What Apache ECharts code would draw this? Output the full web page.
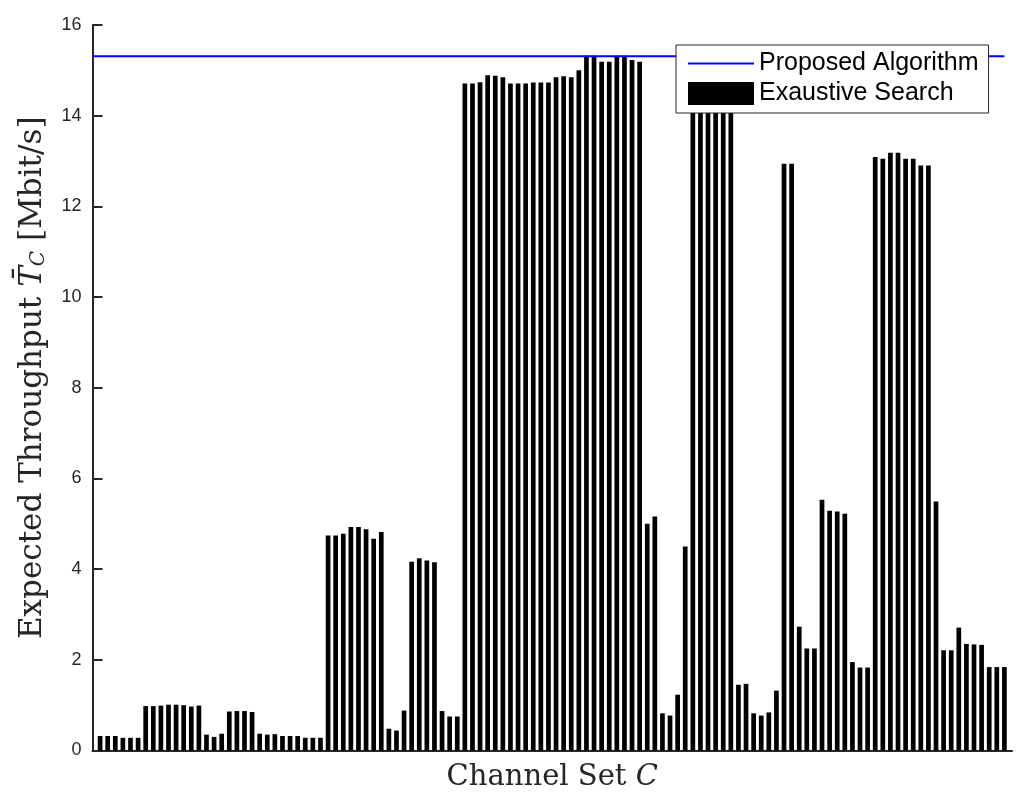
<!DOCTYPE html>
<html>
<head>
<meta charset="utf-8">
<style>
  html, body { margin: 0; padding: 0; background: #fff; }
  #chart { width: 1024px; height: 805px; }
</style>
<script src="https://cdn.jsdelivr.net/npm/echarts@6/dist/echarts.min.js"></script>
</head>
<body>
<div id="chart"></div>
<script>
// expected throughput per channel set, exhaustive search (Mbit/s)
const exhaustive = [
  0.32, 0.32, 0.32, 0.28, 0.28, 0.28,
  0.98, 0.98, 0.99, 1.01, 1.01, 1.00, 0.97, 0.99,
  0.35, 0.30, 0.37,
  0.86, 0.87, 0.87, 0.85,
  0.37, 0.35, 0.36,
  0.32, 0.32, 0.32,
  0.28, 0.28, 0.28,
  4.74, 4.74, 4.78, 4.93, 4.93, 4.88, 4.67, 4.82,
  0.48, 0.44, 0.88,
  4.16, 4.24, 4.19, 4.15,
  0.87, 0.75, 0.75,
  14.71, 14.71, 14.74, 14.89, 14.88, 14.85, 14.71, 14.71, 14.71, 14.73, 14.73, 14.73,
  14.85, 14.87, 14.85, 15.00, 15.32, 15.32, 15.19, 15.19, 15.32, 15.32, 15.23, 15.19,
  5.00, 5.16,
  0.82, 0.77, 1.23, 4.50,
  15.05, 15.05, 15.20, 15.20, 15.05, 15.05,
  1.45, 1.47, 0.82, 0.77, 0.84, 1.32,
  12.94, 12.94,
  2.73, 2.25, 2.25,
  5.53, 5.29, 5.27, 5.22,
  1.95, 1.83, 1.83,
  13.09, 13.05, 13.18, 13.18, 13.05, 13.05, 12.90, 12.90,
  5.49,
  2.21, 2.21,
  2.71,
  2.35, 2.34, 2.33,
  1.84, 1.84, 1.84,
];

// throughput reached by the proposed algorithm
const proposed = 15.31;

const seriesNames = ["Proposed Algorithm", "Exaustive Search"];
const yTicks = { min: 0, max: 16, step: 2 };

const AXIS_COLOR = "#262626";
const SANS = "'Liberation Sans', Arial, sans-serif";
const SERIF = "'DejaVu Serif', serif";

const chart = echarts.init(document.getElementById("chart"));

const barData = exhaustive.map((v, i) => [i + 1, v]);
const lineData = [[0, proposed], [exhaustive.length, proposed]];

chart.setOption({
  backgroundColor: "#fff",
  animation: false,
  grid: { left: 92.5, top: 25, right: 12, bottom: 54.5, containLabel: false },
  legend: {
    data: [
      // thin strip, kept to its aspect ratio => plain line sample
      { name: seriesNames[0], icon: "path://M0,0H66V2H0Z" },
      { name: seriesNames[1], icon: "rect" },
    ],
    orient: "vertical",
    left: 676,
    top: 45,
    itemWidth: 66,
    itemHeight: 23,
    itemGap: 5,
    symbolKeepAspect: true,
    padding: [6, 10, 7, 12],
    backgroundColor: "#fff",
    borderColor: AXIS_COLOR,
    borderWidth: 1,
    borderRadius: 0,
    textStyle: { fontFamily: SANS, fontSize: 25, color: "#000" },
  },
  xAxis: {
    type: "value",
    min: 0,
    max: exhaustive.length + 1,
    axisLine: { show: true, lineStyle: { color: AXIS_COLOR, width: 2 } },
    axisTick: { show: false },
    axisLabel: { show: false },
    splitLine: { show: false },
    name: "Channel Set {c|C}",
    nameLocation: "middle",
    nameGap: 12,
    nameTextStyle: {
      fontFamily: SERIF,
      fontSize: 29,
      color: AXIS_COLOR,
      rich: {
        c: { fontFamily: SERIF, fontSize: 29, fontStyle: "italic", color: AXIS_COLOR },
      },
    },
  },
  yAxis: {
    type: "value",
    min: yTicks.min,
    max: yTicks.max,
    interval: yTicks.step,
    axisLine: { show: true, lineStyle: { color: AXIS_COLOR, width: 2 } },
    axisTick: { show: true, inside: true, length: 10, lineStyle: { color: AXIS_COLOR, width: 2 } },
    axisLabel: { fontFamily: SANS, fontSize: 18, color: AXIS_COLOR, margin: 11 },
    splitLine: { show: false },
    name: "Expected Throughput {t|T\u0304}{s|C} [Mbit/s]",
    nameLocation: "middle",
    nameRotate: 90,
    nameGap: 44,
    nameTextStyle: {
      fontFamily: SERIF,
      fontSize: 31,
      color: AXIS_COLOR,
      padding: [0, 0, 0, 20],
      rich: {
        t: { fontFamily: SERIF, fontSize: 31, fontStyle: "italic", color: AXIS_COLOR },
        s: {
          fontFamily: SERIF, fontSize: 20, fontStyle: "italic", color: AXIS_COLOR,
          padding: [11, 0, 0, 0],
        },
      },
    },
  },
  series: [
    {
      name: seriesNames[1],
      type: "bar",
      data: barData,
      barWidth: 4.7,
      itemStyle: { color: "#000" },
      z: 2,
    },
    {
      name: seriesNames[0],
      type: "line",
      data: lineData,
      showSymbol: false,
      symbol: "none",
      lineStyle: { color: "#0000ff", width: 2 },
      itemStyle: { color: "#0000ff" },
      z: 3,
    },
  ],
});
</script>
</body>
</html>
